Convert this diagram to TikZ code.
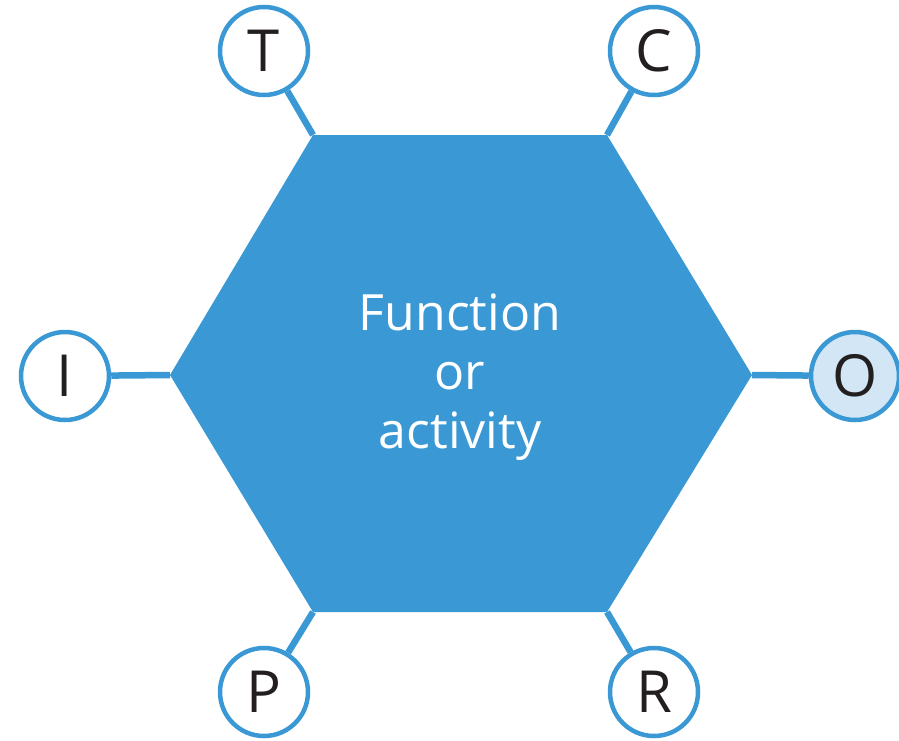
\documentclass[tikz,border=0pt]{standalone}
\usepackage{fontspec}
\setmainfont{Open Sans}
\usepackage{xcolor}
\usetikzlibrary{calc}
\definecolor{hexblue}{HTML}{3A99D4}
\definecolor{paleblue}{HTML}{D3E6F5}
\definecolor{ink}{HTML}{231F20}
\tikzset{
	port/.style={circle, draw=hexblue, line width=4.5pt, fill=white, minimum size=88pt, inner sep=0pt, text=ink, font=\fontsize{58}{58}\selectfont},
	link/.style={hexblue, line width=6.5pt}
}

\begin{document}
\begin{tikzpicture}[x=1pt, y=-1pt]
	\useasboundingbox (0,0) rectangle (899,740);
	% the hexagon corners
	\coordinate (w) at (170,375);
	\coordinate (nw) at (313,135);
	\coordinate (ne) at (607,135);
	\coordinate (e) at (752,375);
	\coordinate (se) at (607,612);
	\coordinate (sw) at (313,612);
	\fill[hexblue] (w) -- (nw) -- (ne) -- (e) -- (se) -- (sw) -- cycle;
	\node[text=white, align=center, font=\fontsize{50}{59}\selectfont] (act) at (460,377) {Function\\or\\activity};
	% the six letters round it
	\node[port] (T) at (264,51) {T};
	\node[port] (C) at (654,51) {C};
	\node[port] (I) at (65,376) {I};
	\node[port, fill=paleblue] (O) at (855,376) {O};
	\node[port] (P) at (264,692) {P};
	\node[port] (R) at (654,692) {R};
	\draw[link] (T) -- (nw);
	\draw[link] (C) -- (ne);
	\draw[link] (I) -- (w);
	\draw[link] (O) -- (e);
	\draw[link] (P) -- (sw);
	\draw[link] (R) -- (se);
\end{tikzpicture}
\end{document}
